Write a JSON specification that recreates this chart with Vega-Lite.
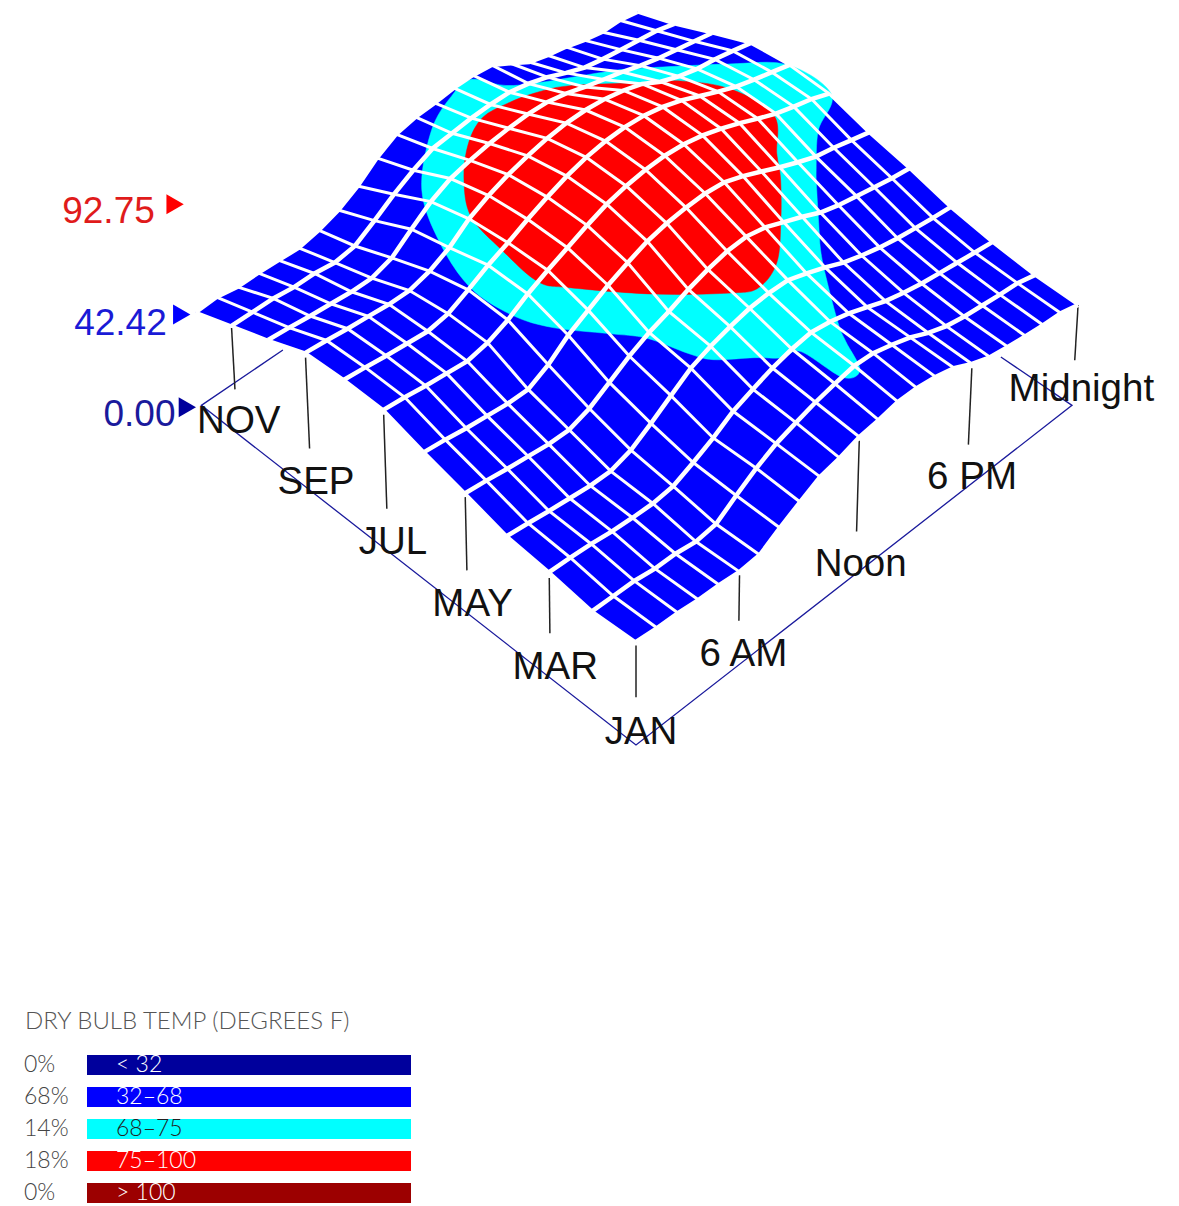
{"$schema":"https://vega.github.io/schema/vega-lite/v6.json","padding":0,"autosize":{"type":"pad"},"spacing":6,"background":"white","config":{"view":{"stroke":null},"concat":{"spacing":6}},
"datasets":{
"nodes":[
{"m":1,"h":1,"t":44.5},{"m":1,"h":2,"t":43.9},{"m":1,"h":3,"t":43.8},{"m":1,"h":4,"t":42.9},{"m":1,"h":5,"t":42.8},{"m":1,"h":6,"t":42},{"m":1,"h":7,"t":42.8},{"m":1,"h":8,"t":48.2},{"m":1,"h":9,"t":53.1},{"m":1,"h":10,"t":57.7},{"m":1,"h":11,"t":59.6},{"m":1,"h":12,"t":62.5},{"m":1,"h":13,"t":63.6},{"m":1,"h":14,"t":65.3},{"m":1,"h":15,"t":65.1},{"m":1,"h":16,"t":63.8},{"m":1,"h":17,"t":61.4},{"m":1,"h":18,"t":56.9},{"m":1,"h":19,"t":53.6},{"m":1,"h":20,"t":51.9},{"m":1,"h":21,"t":50.5},{"m":1,"h":22,"t":49.2},{"m":1,"h":23,"t":48.3},{"m":1,"h":24,"t":45.8},
{"m":2,"h":1,"t":44},{"m":2,"h":2,"t":44},{"m":2,"h":3,"t":44},{"m":2,"h":4,"t":42.8},{"m":2,"h":5,"t":42.8},{"m":2,"h":6,"t":41.6},{"m":2,"h":7,"t":42.8},{"m":2,"h":8,"t":48.9},{"m":2,"h":9,"t":54.5},{"m":2,"h":10,"t":59},{"m":2,"h":11,"t":61.9},{"m":2,"h":12,"t":64.6},{"m":2,"h":13,"t":66.5},{"m":2,"h":14,"t":68.2},{"m":2,"h":15,"t":67.5},{"m":2,"h":16,"t":65},{"m":2,"h":17,"t":62},{"m":2,"h":18,"t":57.7},{"m":2,"h":19,"t":54.5},{"m":2,"h":20,"t":52.6},{"m":2,"h":21,"t":51.3},{"m":2,"h":22,"t":50},{"m":2,"h":23,"t":49},{"m":2,"h":24,"t":46.4},
{"m":3,"h":1,"t":47.3},{"m":3,"h":2,"t":47},{"m":3,"h":3,"t":46.5},{"m":3,"h":4,"t":45.5},{"m":3,"h":5,"t":45},{"m":3,"h":6,"t":44.8},{"m":3,"h":7,"t":46},{"m":3,"h":8,"t":50},{"m":3,"h":9,"t":54.5},{"m":3,"h":10,"t":60},{"m":3,"h":11,"t":63.5},{"m":3,"h":12,"t":66.6},{"m":3,"h":13,"t":68.8},{"m":3,"h":14,"t":70},{"m":3,"h":15,"t":68.5},{"m":3,"h":16,"t":66},{"m":3,"h":17,"t":62.5},{"m":3,"h":18,"t":59},{"m":3,"h":19,"t":56.5},{"m":3,"h":20,"t":54.5},{"m":3,"h":21,"t":53},{"m":3,"h":22,"t":51.5},{"m":3,"h":23,"t":50},{"m":3,"h":24,"t":48.6},
{"m":4,"h":1,"t":49.4},{"m":4,"h":2,"t":48.5},{"m":4,"h":3,"t":47.4},{"m":4,"h":4,"t":46.5},{"m":4,"h":5,"t":45.6},{"m":4,"h":6,"t":45.6},{"m":4,"h":7,"t":48.5},{"m":4,"h":8,"t":54},{"m":4,"h":9,"t":60},{"m":4,"h":10,"t":66},{"m":4,"h":11,"t":69.5},{"m":4,"h":12,"t":72},{"m":4,"h":13,"t":74},{"m":4,"h":14,"t":74.6},{"m":4,"h":15,"t":74.2},{"m":4,"h":16,"t":71},{"m":4,"h":17,"t":67.5},{"m":4,"h":18,"t":63.5},{"m":4,"h":19,"t":60.5},{"m":4,"h":20,"t":58},{"m":4,"h":21,"t":56},{"m":4,"h":22,"t":54.5},{"m":4,"h":23,"t":53},{"m":4,"h":24,"t":51.8},
{"m":5,"h":1,"t":54.6},{"m":5,"h":2,"t":53.7},{"m":5,"h":3,"t":52.5},{"m":5,"h":4,"t":51.6},{"m":5,"h":5,"t":50.6},{"m":5,"h":6,"t":50.6},{"m":5,"h":7,"t":53.7},{"m":5,"h":8,"t":59},{"m":5,"h":9,"t":64.5},{"m":5,"h":10,"t":68.8},{"m":5,"h":11,"t":72},{"m":5,"h":12,"t":75.7},{"m":5,"h":13,"t":78.5},{"m":5,"h":14,"t":80.5},{"m":5,"h":15,"t":81},{"m":5,"h":16,"t":79},{"m":5,"h":17,"t":75.2},{"m":5,"h":18,"t":71.5},{"m":5,"h":19,"t":67.3},{"m":5,"h":20,"t":64.5},{"m":5,"h":21,"t":62.5},{"m":5,"h":22,"t":60.5},{"m":5,"h":23,"t":58.5},{"m":5,"h":24,"t":57},
{"m":6,"h":1,"t":59.3},{"m":6,"h":2,"t":58.4},{"m":6,"h":3,"t":57.1},{"m":6,"h":4,"t":56.2},{"m":6,"h":5,"t":55.3},{"m":6,"h":6,"t":55.3},{"m":6,"h":7,"t":60},{"m":6,"h":8,"t":67},{"m":6,"h":9,"t":72},{"m":6,"h":10,"t":77},{"m":6,"h":11,"t":81},{"m":6,"h":12,"t":84.5},{"m":6,"h":13,"t":86.5},{"m":6,"h":14,"t":87.5},{"m":6,"h":15,"t":87.8},{"m":6,"h":16,"t":86.8},{"m":6,"h":17,"t":83.5},{"m":6,"h":18,"t":79.5},{"m":6,"h":19,"t":75.3},{"m":6,"h":20,"t":71.5},{"m":6,"h":21,"t":68},{"m":6,"h":22,"t":66},{"m":6,"h":23,"t":63.5},{"m":6,"h":24,"t":61},
{"m":7,"h":1,"t":64.7},{"m":7,"h":2,"t":63.9},{"m":7,"h":3,"t":62.7},{"m":7,"h":4,"t":61.9},{"m":7,"h":5,"t":61},{"m":7,"h":6,"t":63},{"m":7,"h":7,"t":67},{"m":7,"h":8,"t":72.5},{"m":7,"h":9,"t":77},{"m":7,"h":10,"t":81},{"m":7,"h":11,"t":85},{"m":7,"h":12,"t":88.5},{"m":7,"h":13,"t":90.7},{"m":7,"h":14,"t":92},{"m":7,"h":15,"t":92.3},{"m":7,"h":16,"t":91.5},{"m":7,"h":17,"t":89.5},{"m":7,"h":18,"t":86.5},{"m":7,"h":19,"t":83},{"m":7,"h":20,"t":79},{"m":7,"h":21,"t":75.3},{"m":7,"h":22,"t":72.5},{"m":7,"h":23,"t":70},{"m":7,"h":24,"t":66.5},
{"m":8,"h":1,"t":64.8},{"m":8,"h":2,"t":64},{"m":8,"h":3,"t":62.9},{"m":8,"h":4,"t":62.1},{"m":8,"h":5,"t":61.3},{"m":8,"h":6,"t":63},{"m":8,"h":7,"t":67.5},{"m":8,"h":8,"t":72.5},{"m":8,"h":9,"t":76.5},{"m":8,"h":10,"t":81},{"m":8,"h":11,"t":85},{"m":8,"h":12,"t":88.5},{"m":8,"h":13,"t":91},{"m":8,"h":14,"t":92.4},{"m":8,"h":15,"t":92.75},{"m":8,"h":16,"t":92},{"m":8,"h":17,"t":90},{"m":8,"h":18,"t":87},{"m":8,"h":19,"t":83},{"m":8,"h":20,"t":79},{"m":8,"h":21,"t":75.3},{"m":8,"h":22,"t":72.5},{"m":8,"h":23,"t":70},{"m":8,"h":24,"t":67.4},
{"m":9,"h":1,"t":63.6},{"m":9,"h":2,"t":62.9},{"m":9,"h":3,"t":61.9},{"m":9,"h":4,"t":61.2},{"m":9,"h":5,"t":60.4},{"m":9,"h":6,"t":60.4},{"m":9,"h":7,"t":63},{"m":9,"h":8,"t":67.5},{"m":9,"h":9,"t":74.5},{"m":9,"h":10,"t":79},{"m":9,"h":11,"t":82.5},{"m":9,"h":12,"t":85},{"m":9,"h":13,"t":87},{"m":9,"h":14,"t":88},{"m":9,"h":15,"t":88},{"m":9,"h":16,"t":87},{"m":9,"h":17,"t":85},{"m":9,"h":18,"t":82},{"m":9,"h":19,"t":77},{"m":9,"h":20,"t":73.5},{"m":9,"h":21,"t":71},{"m":9,"h":22,"t":69.5},{"m":9,"h":23,"t":67.5},{"m":9,"h":24,"t":65.2},
{"m":10,"h":1,"t":56.2},{"m":10,"h":2,"t":55.5},{"m":10,"h":3,"t":54.5},{"m":10,"h":4,"t":53.8},{"m":10,"h":5,"t":53},{"m":10,"h":6,"t":53},{"m":10,"h":7,"t":56},{"m":10,"h":8,"t":63},{"m":10,"h":9,"t":69.5},{"m":10,"h":10,"t":74},{"m":10,"h":11,"t":76.3},{"m":10,"h":12,"t":78},{"m":10,"h":13,"t":79},{"m":10,"h":14,"t":79.5},{"m":10,"h":15,"t":79},{"m":10,"h":16,"t":77},{"m":10,"h":17,"t":74},{"m":10,"h":18,"t":71.5},{"m":10,"h":19,"t":69},{"m":10,"h":20,"t":66},{"m":10,"h":21,"t":63.5},{"m":10,"h":22,"t":61.5},{"m":10,"h":23,"t":59.5},{"m":10,"h":24,"t":57.5},
{"m":11,"h":1,"t":49.4},{"m":11,"h":2,"t":49.4},{"m":11,"h":3,"t":49.4},{"m":11,"h":4,"t":48.3},{"m":11,"h":5,"t":48.3},{"m":11,"h":6,"t":47.1},{"m":11,"h":7,"t":48.5},{"m":11,"h":8,"t":54},{"m":11,"h":9,"t":60},{"m":11,"h":10,"t":65},{"m":11,"h":11,"t":69},{"m":11,"h":12,"t":70},{"m":11,"h":13,"t":71},{"m":11,"h":14,"t":71.3},{"m":11,"h":15,"t":71},{"m":11,"h":16,"t":69},{"m":11,"h":17,"t":66},{"m":11,"h":18,"t":62},{"m":11,"h":19,"t":58.5},{"m":11,"h":20,"t":56.5},{"m":11,"h":21,"t":55},{"m":11,"h":22,"t":53.5},{"m":11,"h":23,"t":52},{"m":11,"h":24,"t":49.3},
{"m":12,"h":1,"t":42.6},{"m":12,"h":2,"t":43.2},{"m":12,"h":3,"t":41.6},{"m":12,"h":4,"t":41.8},{"m":12,"h":5,"t":41.4},{"m":12,"h":6,"t":40.9},{"m":12,"h":7,"t":42.9},{"m":12,"h":8,"t":46},{"m":12,"h":9,"t":51},{"m":12,"h":10,"t":58},{"m":12,"h":11,"t":63},{"m":12,"h":12,"t":64.9},{"m":12,"h":13,"t":65.4},{"m":12,"h":14,"t":66.4},{"m":12,"h":15,"t":66.4},{"m":12,"h":16,"t":65.2},{"m":12,"h":17,"t":60},{"m":12,"h":18,"t":54.6},{"m":12,"h":19,"t":51.8},{"m":12,"h":20,"t":49.8},{"m":12,"h":21,"t":47},{"m":12,"h":22,"t":44.9},{"m":12,"h":23,"t":44.6},{"m":12,"h":24,"t":42.6}
],
"cyan":[{"i":1,"m":1.87,"h":14,"t":68},{"i":2,"m":1.96,"h":13.3,"t":68},{"i":3,"m":2.88,"h":13.2,"t":68},{"i":4,"m":3,"h":12.5,"t":68},{"i":5,"m":3.34,"h":11.8,"t":68},{"i":6,"m":3.8,"h":10.7,"t":68},{"i":7,"m":4.2,"h":10.3,"t":68},{"i":8,"m":4.96,"h":9.8,"t":68},{"i":9,"m":5.5,"h":9,"t":68},{"i":10,"m":6.28,"h":7.8,"t":68},{"i":11,"m":7,"h":7.2,"t":68},{"i":12,"m":8,"h":7.1,"t":68},{"i":13,"m":9.2,"h":7.9,"t":68},{"i":14,"m":10.4,"h":9.3,"t":68},{"i":15,"m":11.4,"h":11.7,"t":68},{"i":16,"m":11.8,"h":13.5,"t":68},{"i":17,"m":11.86,"h":14.7,"t":68},{"i":18,"m":11.2,"h":15.6,"t":68},{"i":19,"m":10.3,"h":18.5,"t":68},{"i":20,"m":10,"h":19.4,"t":68},{"i":21,"m":8.8,"h":22.3,"t":68},{"i":22,"m":8,"h":23.9,"t":68},{"i":23,"m":6.9,"h":23.9,"t":68},{"i":24,"m":6.43,"h":22.1,"t":68},{"i":25,"m":5.77,"h":20.5,"t":68},{"i":26,"m":5.4,"h":19.7,"t":68},{"i":27,"m":4.82,"h":18.5,"t":68},{"i":28,"m":4.33,"h":17.5,"t":68},{"i":29,"m":3.8,"h":16.6,"t":68},{"i":30,"m":2.9,"h":15.2,"t":68},{"i":31,"m":2.5,"h":14.7,"t":68}],
"red":[{"i":1,"m":4.2,"h":13.9,"t":75},{"i":2,"m":4.45,"h":13,"t":75},{"i":3,"m":5.37,"h":11,"t":75},{"i":4,"m":6.5,"h":9.1,"t":75},{"i":5,"m":7,"h":8.5,"t":75},{"i":6,"m":8,"h":8.7,"t":75},{"i":7,"m":9,"h":9.1,"t":75},{"i":8,"m":9.8,"h":10.3,"t":75},{"i":9,"m":10.4,"h":11.7,"t":75},{"i":10,"m":10.7,"h":13,"t":75},{"i":11,"m":10.65,"h":14.2,"t":75},{"i":12,"m":10.5,"h":15.3,"t":75},{"i":13,"m":10.2,"h":16.5,"t":75},{"i":14,"m":9.4,"h":18.4,"t":75},{"i":15,"m":8.8,"h":19.8,"t":75},{"i":16,"m":8,"h":20.8,"t":75},{"i":17,"m":7,"h":20.9,"t":75},{"i":18,"m":6.3,"h":19.5,"t":75},{"i":19,"m":5.8,"h":18.6,"t":75},{"i":20,"m":5.07,"h":17,"t":75},{"i":21,"m":4.4,"h":15.3,"t":75}],
"base":[{"e":"a","i":1,"m":2.67,"h":24,"t":0},{"e":"a","i":2,"m":1,"h":24,"t":0},{"e":"a","i":3,"m":1,"h":1,"t":0},{"e":"a","i":4,"m":12,"h":1,"t":0},{"e":"a","i":5,"m":12,"h":5,"t":0}],
"ticks":[{"k":"JAN","m":1,"h":1,"t":43},{"k":"JAN","m":1,"h":1,"t":20.6},{"k":"MAR","m":3,"h":1,"t":44.7},{"k":"MAR","m":3,"h":1,"t":20.6},{"k":"MAY","m":5,"h":1,"t":52.9},{"k":"MAY","m":5,"h":1,"t":20.6},{"k":"JUL","m":7,"h":1,"t":62.5},{"k":"JUL","m":7,"h":1,"t":20.6},{"k":"SEP","m":9,"h":1,"t":61.5},{"k":"SEP","m":9,"h":1,"t":20.6},{"k":"NOV","m":11,"h":1,"t":48.5},{"k":"NOV","m":11,"h":1,"t":20.6},{"k":"6AM","m":1,"h":6,"t":40.5},{"k":"6AM","m":1,"h":6,"t":20.6},{"k":"Noon","m":1,"h":12,"t":60.8},{"k":"Noon","m":1,"h":12,"t":20.6},{"k":"6PM","m":1,"h":18,"t":55},{"k":"6PM","m":1,"h":18,"t":20.6},{"k":"Mid","m":1,"h":24,"t":45.8},{"k":"Mid","m":1,"h":24,"t":20.6}],
"labels":[{"label":"JAN","m":1,"h":1,"t":6.6},{"label":"MAR","m":3,"h":1,"t":6.6},{"label":"MAY","m":5,"h":1,"t":6.6},{"label":"JUL","m":7,"h":1,"t":6.6},{"label":"SEP","m":9,"h":1,"t":6.6},{"label":"NOV","m":11.08,"h":1,"t":6},{"label":"6 AM","m":1,"h":6,"t":7},{"label":"Noon","m":1,"h":12,"t":7},{"label":"6 PM","m":1,"h":18,"t":7},{"label":"Midnight","m":1,"h":24.2,"t":7}],
"zaxis":[{"label":"92.75","m":12,"h":0.8,"t":92.75,"c":"a"},{"label":"42.42","m":12,"h":1.05,"t":42.42,"c":"b"},{"label":"0.00","m":12,"h":1.2,"t":0,"c":"c"}],
"legend":[{"share":"0%","range":"< 32"},{"share":"68%","range":"32–68"},{"share":"14%","range":"68–75"},{"share":"18%","range":"75–100"},{"share":"0%","range":"> 100"}]
},
"vconcat":[
{"width":1179,"height":1004,
"encoding":{"x":{"field":"sx","type":"quantitative","scale":{"domain":[0,1179],"nice":false,"zero":false},"axis":null},"y":{"field":"sy","type":"quantitative","scale":{"domain":[0,1004],"reverse":true,"nice":false,"zero":false},"axis":null}},
"layer":[
{"data":{"name":"base"},"transform":[{"calculate":"(datum.h-1)/23","as":"u"},{"calculate":"(datum.m-1)/11","as":"v"},{"calculate":"636+(487.5*datum.u-486*datum.v)/(1+0.103*(datum.u+datum.v))*(1+0.0003*(datum.t-45))","as":"sx"},{"calculate":"745-(359*(datum.u+datum.v)+2.315*datum.t)/(1+0.057*(datum.u+datum.v))","as":"sy"}],"mark":{"type":"line","stroke":"#1a1a9c","strokeWidth":1.3},"encoding":{"detail":{"field":"e"},"order":{"field":"i","type":"quantitative"}}},
{"data":{"name":"ticks"},"transform":[{"calculate":"(datum.h-1)/23","as":"u"},{"calculate":"(datum.m-1)/11","as":"v"},{"calculate":"636+(487.5*datum.u-486*datum.v)/(1+0.103*(datum.u+datum.v))*(1+0.0003*(datum.t-45))","as":"sx"},{"calculate":"745-(359*(datum.u+datum.v)+2.315*datum.t)/(1+0.057*(datum.u+datum.v))","as":"sy"}],"mark":{"type":"line","stroke":"#222222","strokeWidth":1.5},"encoding":{"detail":{"field":"k"}}},
{"data":{"name":"nodes"},"transform":[{"calculate":"(datum.h-1)/23","as":"u"},{"calculate":"(datum.m-1)/11","as":"v"},{"calculate":"636+(487.5*datum.u-486*datum.v)/(1+0.103*(datum.u+datum.v))*(1+0.0003*(datum.t-45))","as":"sx"},{"calculate":"745-(359*(datum.u+datum.v)+2.315*datum.t)/(1+0.057*(datum.u+datum.v))","as":"sy"},{"calculate":"datum.m","as":"a"},{"calculate":"datum.m-1","as":"b"},{"fold":["a","b"],"as":["side","strip"]},{"filter":"datum.strip>=1 && datum.strip<=11"},{"calculate":"datum.side=='a'?datum.h:100-datum.h","as":"o"}],"mark":{"type":"line","fill":"#0000ff","stroke":"#0000ff","strokeWidth":0.5},"encoding":{"detail":{"field":"strip"},"order":{"field":"o","type":"quantitative"}}},
{"data":{"name":"cyan"},"transform":[{"calculate":"(datum.h-1)/23","as":"u"},{"calculate":"(datum.m-1)/11","as":"v"},{"calculate":"636+(487.5*datum.u-486*datum.v)/(1+0.103*(datum.u+datum.v))*(1+0.0003*(datum.t-45))","as":"sx"},{"calculate":"745-(359*(datum.u+datum.v)+2.315*datum.t)/(1+0.057*(datum.u+datum.v))","as":"sy"}],"mark":{"type":"line","fill":"#00ffff","stroke":"#00ffff","strokeWidth":0.5,"interpolate":"cardinal-closed"},"encoding":{"order":{"field":"i","type":"quantitative"}}},
{"data":{"name":"red"},"transform":[{"calculate":"(datum.h-1)/23","as":"u"},{"calculate":"(datum.m-1)/11","as":"v"},{"calculate":"636+(487.5*datum.u-486*datum.v)/(1+0.103*(datum.u+datum.v))*(1+0.0003*(datum.t-45))","as":"sx"},{"calculate":"745-(359*(datum.u+datum.v)+2.315*datum.t)/(1+0.057*(datum.u+datum.v))","as":"sy"}],"mark":{"type":"line","fill":"#ff0000","stroke":"#ff0000","strokeWidth":0.5,"interpolate":"cardinal-closed"},"encoding":{"order":{"field":"i","type":"quantitative"}}},
{"data":{"name":"nodes"},"transform":[{"calculate":"(datum.h-1)/23","as":"u"},{"calculate":"(datum.m-1)/11","as":"v"},{"calculate":"636+(487.5*datum.u-486*datum.v)/(1+0.103*(datum.u+datum.v))*(1+0.0003*(datum.t-45))","as":"sx"},{"calculate":"745-(359*(datum.u+datum.v)+2.315*datum.t)/(1+0.057*(datum.u+datum.v))","as":"sy"}],"mark":{"type":"line","stroke":"#ffffff","strokeWidth":3},"encoding":{"detail":{"field":"h"},"order":{"field":"m","type":"quantitative"}}},
{"data":{"name":"nodes"},"transform":[{"calculate":"(datum.h-1)/23","as":"u"},{"calculate":"(datum.m-1)/11","as":"v"},{"calculate":"636+(487.5*datum.u-486*datum.v)/(1+0.103*(datum.u+datum.v))*(1+0.0003*(datum.t-45))","as":"sx"},{"calculate":"745-(359*(datum.u+datum.v)+2.315*datum.t)/(1+0.057*(datum.u+datum.v))","as":"sy"}],"mark":{"type":"line","stroke":"#ffffff","strokeWidth":4.5},"encoding":{"detail":{"field":"m"},"order":{"field":"h","type":"quantitative"}}},
{"data":{"name":"labels"},"transform":[{"calculate":"(datum.h-1)/23","as":"u"},{"calculate":"(datum.m-1)/11","as":"v"},{"calculate":"636+(487.5*datum.u-486*datum.v)/(1+0.103*(datum.u+datum.v))*(1+0.0003*(datum.t-45))","as":"sx"},{"calculate":"745-(359*(datum.u+datum.v)+2.315*datum.t)/(1+0.057*(datum.u+datum.v))","as":"sy"}],"mark":{"type":"text","font":"Liberation Sans","fontSize":38.5,"dx":5,"dy":2,"color":"#111111","align":"center","baseline":"middle"},"encoding":{"text":{"field":"label"}}},
{"data":{"name":"zaxis"},"transform":[{"calculate":"(12-1)/11","as":"v"},{"calculate":"0","as":"u"},{"calculate":"636+(487.5*datum.u-486*datum.v)/(1+0.103*(datum.u+datum.v))*(1+0.0003*(datum.t-45))","as":"sx"},{"calculate":"745-(359*(datum.u+datum.v)+2.315*datum.t)/(1+0.057*(datum.u+datum.v))","as":"sy"}],"mark":{"type":"point","shape":"triangle-right","filled":true,"size":400,"xOffset":-14,"yOffset":2,"opacity":1},"encoding":{"color":{"field":"c","type":"nominal","scale":{"domain":["a","b","c"],"range":["#ff0000","#0000ff","#00009c"]},"legend":null}}},
{"data":{"name":"zaxis"},"transform":[{"filter":"datum.c=='a'"},{"calculate":"(datum.h-1)/23","as":"u"},{"calculate":"(datum.m-1)/11","as":"v"},{"calculate":"636+(487.5*datum.u-486*datum.v)/(1+0.103*(datum.u+datum.v))*(1+0.0003*(datum.t-45))","as":"sx"},{"calculate":"745-(359*(datum.u+datum.v)+2.315*datum.t)/(1+0.057*(datum.u+datum.v))","as":"sy"}],"mark":{"type":"text","font":"Liberation Sans","fontSize":37,"dx":-30,"dy":7,"align":"right","baseline":"middle","color":"#e01b1b"},"encoding":{"text":{"field":"label"}}},
{"data":{"name":"zaxis"},"transform":[{"filter":"datum.c!='a'"},{"calculate":"(datum.h-1)/23","as":"u"},{"calculate":"(datum.m-1)/11","as":"v"},{"calculate":"636+(487.5*datum.u-486*datum.v)/(1+0.103*(datum.u+datum.v))*(1+0.0003*(datum.t-45))","as":"sx"},{"calculate":"745-(359*(datum.u+datum.v)+2.315*datum.t)/(1+0.057*(datum.u+datum.v))","as":"sy"}],"mark":{"type":"text","font":"Liberation Sans","fontSize":37,"dx":-30,"dy":12.5,"align":"right","baseline":"middle"},"encoding":{"text":{"field":"label"},"color":{"field":"c","type":"nominal","scale":{"domain":["b","c"],"range":["#1a1ad6","#1a1a9c"]},"legend":null}}}
],"resolve":{"scale":{"color":"independent"}}},
{"width":411,"height":148,"data":{"name":"legend"},
"title":{"text":"DRY BULB TEMP (DEGREES F)","anchor":"start","frame":"group","dx":25,"font":"Lato","fontSize":24,"fontWeight":300,"color":"#555555","offset":20},
"encoding":{"y":{"field":"range","type":"nominal","sort":null,"axis":null,"scale":{"paddingInner":0.375,"paddingOuter":0}}},
"layer":[
{"mark":{"type":"bar"},"encoding":{"x":{"datum":87,"type":"quantitative","scale":{"domain":[0,411],"nice":false,"zero":false},"axis":null},"x2":{"datum":411},"color":{"field":"range","type":"nominal","sort":null,"scale":{"domain":["< 32","32–68","68–75","75–100","> 100"],"range":["#00009c","#0000ff","#00ffff","#ff0000","#9c0000"]},"legend":null}}},
{"mark":{"type":"text","font":"Lato","fontSize":23,"fontWeight":300,"align":"left","baseline":"middle","color":"#444444"},"encoding":{"x":{"datum":24,"type":"quantitative"},"text":{"field":"share"}}},
{"mark":{"type":"text","font":"Lato","fontSize":23,"fontWeight":300,"align":"left","baseline":"middle"},"encoding":{"x":{"datum":116,"type":"quantitative"},"text":{"field":"range"},"color":{"condition":{"test":"datum.range=='68–75'","value":"#222222"},"value":"#ffffff"}}}
]}
]}
